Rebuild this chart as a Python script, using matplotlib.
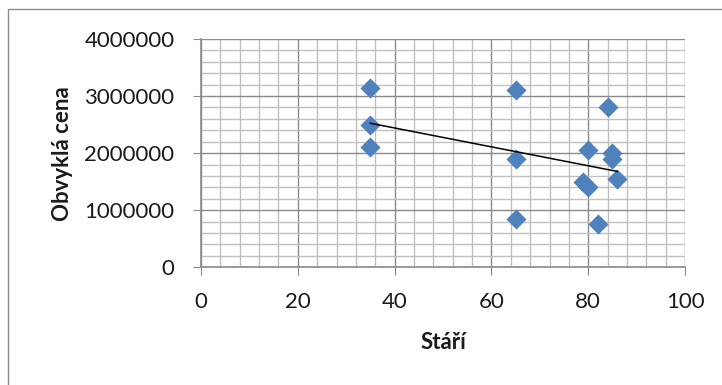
import numpy as np
import matplotlib.pyplot as plt
from matplotlib.patches import Rectangle
from matplotlib.ticker import MultipleLocator

plt.rcParams['font.family'] = ['Lato', 'DejaVu Sans']

# stáří a obvyklá cena
stari = [35, 35, 35, 65, 65, 65, 84, 80, 85, 85, 86, 79, 80, 82]
cena = [3150000, 2500000, 2100000, 3100000, 1890000, 850000, 2800000,
        2050000, 2000000, 1900000, 1550000, 1500000, 1400000, 750000]

x_ticks = [0, 20, 40, 60, 80, 100]
y_ticks = [0, 1000000, 2000000, 3000000, 4000000]

fig = plt.figure(figsize=(7.22, 3.85), dpi=100)
ax = fig.add_axes([0.2784, 0.3057, 0.6704, 0.593])

# rámeček grafu
fig.patches.append(Rectangle((8 / 722, -0.1), 1.2, 1 - 9 / 385 + 0.1,
                             transform=fig.transFigure, fill=False,
                             edgecolor='#8c8c8c', linewidth=1.0))

ax.scatter(stari, cena, marker='D', s=105, color='#4f81bd', zorder=3,
           linewidths=0)

# lineární trend
k, q = np.polyfit(stari, cena, 1)
xs = np.array([min(stari), max(stari)])
ax.plot(xs, k * xs + q, color='black', linewidth=1.1, zorder=4)

ax.set_xlim(0, 100)
ax.set_ylim(0, 4000000)
ax.set_xticks(x_ticks)
ax.set_yticks(y_ticks)
ax.set_xticklabels([str(v) for v in x_ticks])
ax.set_yticklabels([str(v) for v in y_ticks])
ax.xaxis.set_minor_locator(MultipleLocator(4))
ax.yaxis.set_minor_locator(MultipleLocator(200000))

ax.grid(which='minor', color='#c0c0c0', linewidth=1.0, zorder=0)
ax.grid(which='major', color='#8a8a8a', linewidth=1.0, zorder=1)
ax.set_axisbelow(True)

for side in ['top', 'right']:
    ax.spines[side].set_visible(False)
for side in ['left', 'bottom']:
    ax.spines[side].set_color('#8a8a8a')
    ax.spines[side].set_linewidth(1.2)

ax.tick_params(which='major', length=6, color='#8a8a8a', labelsize=16,
               labelcolor='#1a1a1a')
ax.tick_params(axis='y', which='major', pad=13)
ax.tick_params(axis='x', which='major', pad=12)
ax.tick_params(which='minor', length=0)

ax.set_xlabel('Stáří', fontsize=16, fontweight='bold', color='#1a1a1a',
              labelpad=14)
ax.set_ylabel('Obvyklá cena', fontsize=16, fontweight='bold', color='#1a1a1a',
              labelpad=8)

fig.savefig('out.png', dpi=100)
